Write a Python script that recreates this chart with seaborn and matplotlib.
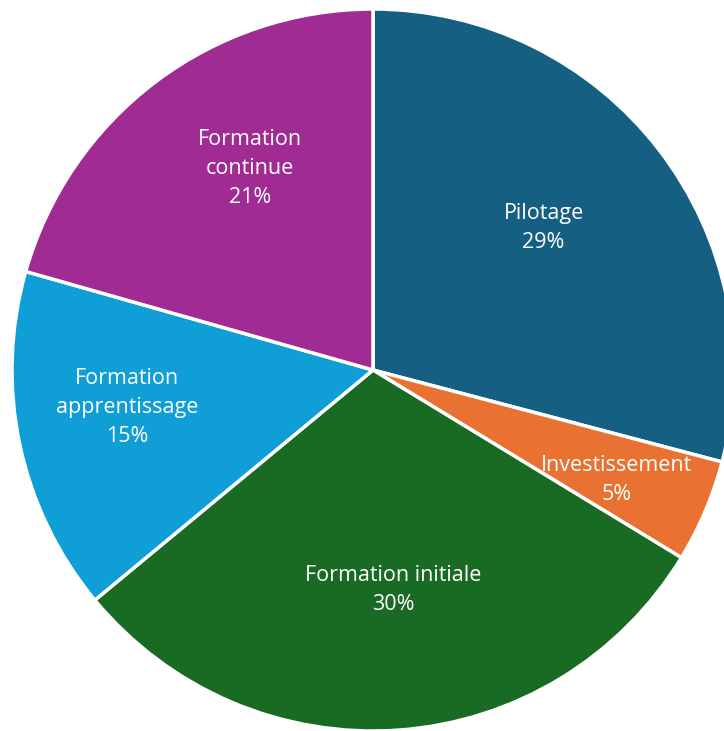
import numpy as np
import matplotlib
matplotlib.use("Agg")
import matplotlib.pyplot as plt
import seaborn as sns

# Data (shares)
categories = ["Pilotage", "Investissement", "Formation initiale",
              "Formation\napprentissage", "Formation\ncontinue"]
shares = [29.1, 4.6, 30.3, 15.4, 20.6]
colors = ["#156082", "#E97132", "#196B24", "#0F9ED5", "#A02B93"]

sns.set_theme(style="white")
plt.rcParams["font.family"] = ["Open Sans", "DejaVu Sans"]

fig = plt.figure(figsize=(7.24, 7.31), dpi=100)
# square axes so that the pie sits like in the reference (slightly clipped right)
ax = fig.add_axes([12 / 724, 0, 722 / 724, 722 / 731])

wedges, _ = ax.pie(shares, colors=colors, startangle=90, counterclock=False,
                   radius=1, wedgeprops=dict(edgecolor="white", linewidth=2.5))

# Excel "best fit" label placement: distance from centre and angle shift per slice
label_r = [0.615, 0.741, 0.612, 0.689, 0.653]
label_shift = [2.2, -1.3, 1.2, -3.3, -5.6]  # degrees
for w, cat, val, r, s in zip(wedges, categories, shares, label_r, label_shift):
    ang = np.deg2rad((w.theta1 + w.theta2) / 2 + s)
    ax.text(r * np.cos(ang), r * np.sin(ang), f"{cat}\n{val:.0f}%",
            ha="center", va="center", color="white", fontsize=15.5,
            linespacing=1.5)

ax.set_xlim(-1, 1)
ax.set_ylim(-1, 1)
ax.set_aspect("equal")
ax.axis("off")

fig.savefig("out.png", dpi=100)
